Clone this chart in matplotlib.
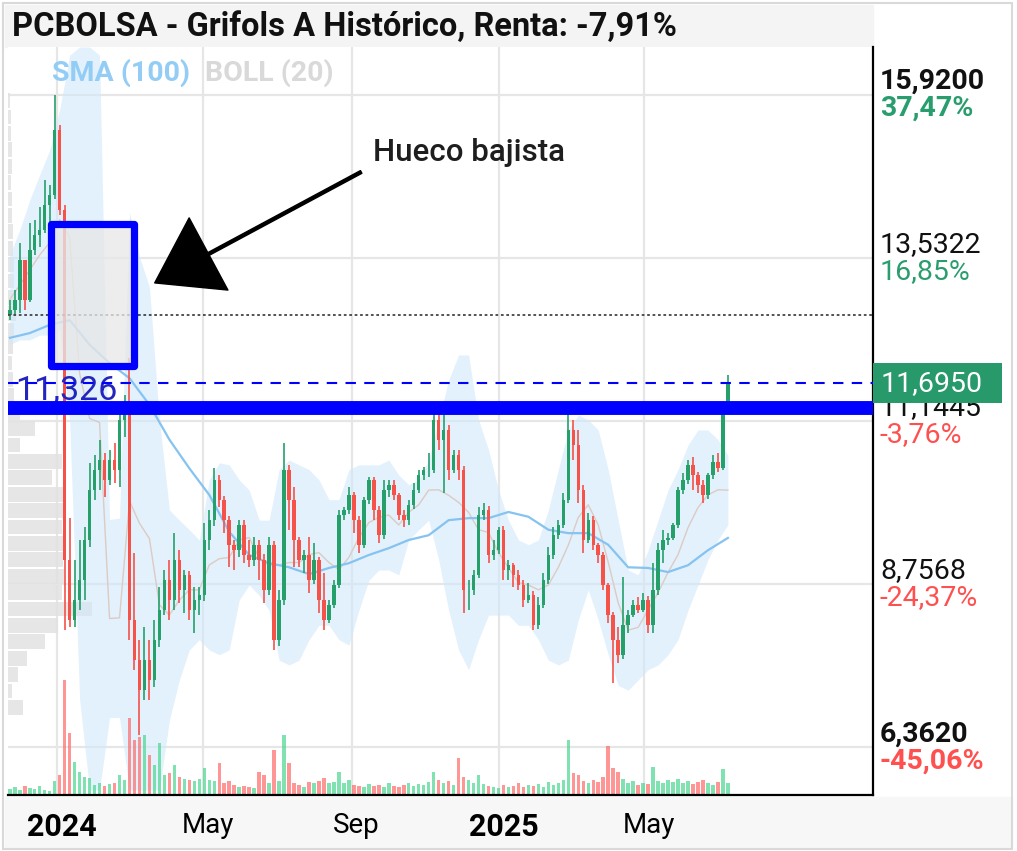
import datetime as dt
import matplotlib
matplotlib.use("Agg")
import matplotlib.pyplot as plt
import matplotlib.dates as mdates
import matplotlib.transforms as mtrans
from matplotlib.patches import Rectangle
import numpy as np

plt.rcParams["font.family"] = ["Roboto", "DejaVu Sans"]

GREEN, RED, BLUE = "#26a06b", "#f5524a", "#0000ff"
PCT_GREEN, PCT_RED = "#2a9d6f", "#ff5050"

# ---- data (EUR) ----
first_open = 12.70
close = [12.77, 12.92, 13.50, 12.92, 13.65, 13.87, 13.94, 14.31, 14.45, 15.41,
         14.23, 9.11, 8.23, 8.52, 8.81, 9.40, 10.13, 10.43, 10.57, 10.28,
         10.57, 10.43, 11.16, 11.38, 8.23, 7.64, 7.20, 7.64, 7.35, 7.94,
         8.37, 8.81, 8.52, 9.11, 8.67, 8.89, 8.37, 8.52, 8.59, 9.40,
         9.69, 10.28, 9.99, 9.69, 9.33, 9.25, 9.62, 9.18, 9.11, 9.33,
         9.11, 8.67, 9.33, 7.94, 8.52, 10.43, 9.99, 9.40, 9.11, 9.18,
         8.81, 9.11, 8.52, 8.23, 8.45, 8.74, 9.77, 9.84, 10.06, 9.69,
         9.33, 9.99, 10.28, 9.84, 9.47, 10.13, 10.21, 10.06, 9.77, 9.69,
         9.91, 10.13, 10.35, 10.43, 10.43, 11.16, 10.87, 11.01, 10.43, 10.64,
         10.43, 8.67, 8.67, 8.89, 9.77, 9.84, 9.18, 9.25, 9.55, 8.96,
         9.03, 8.89, 8.74, 8.52, 8.59, 8.15, 8.45, 8.81, 9.18, 9.47,
         9.62, 9.99, 11.01, 10.79, 10.13, 9.40, 9.69, 9.33, 9.18, 8.74,
         8.30, 7.94, 7.72, 8.15, 8.30, 8.45, 8.37, 8.52, 8.15, 8.67,
         9.25, 9.40, 9.43, 9.62, 10.13, 10.28, 10.50, 10.35, 10.21, 10.06,
         10.35, 10.54, 10.45, 11.30, 11.695]
high = [12.92, 13.06, 13.75, 13.25, 14.04, 14.09, 14.28, 14.67, 14.60, 15.92,
        15.48, 14.31, 9.72, 9.11, 9.40, 9.59, 10.53, 10.64, 10.87, 10.67,
        10.72, 10.82, 11.30, 11.52, 12.07, 9.21, 7.94, 8.13, 7.94, 8.23,
        8.71, 8.96, 9.11, 9.50, 9.25, 8.96, 8.95, 8.71, 8.71, 9.65,
        9.84, 10.45, 10.35, 10.05, 9.75, 9.40, 9.69, 9.69, 9.40, 9.44,
        9.40, 9.20, 9.44, 9.38, 8.67, 10.82, 10.50, 10.18, 9.45, 9.25,
        9.44, 9.36, 9.15, 8.92, 8.52, 8.81, 9.84, 9.88, 10.18, 10.10,
        9.75, 10.03, 10.32, 10.32, 9.90, 10.28, 10.28, 10.28, 10.09, 9.84,
        9.99, 10.24, 10.43, 10.47, 10.67, 11.26, 11.33, 11.33, 11.08, 10.72,
        10.72, 10.48, 8.81, 8.96, 9.88, 9.94, 9.90, 9.40, 9.59, 9.60,
        9.11, 9.06, 8.96, 8.81, 8.77, 8.65, 8.56, 8.92, 9.30, 9.59,
        9.69, 10.09, 11.26, 11.16, 11.01, 10.20, 9.79, 9.75, 9.36, 9.22,
        8.77, 8.35, 8.13, 8.86, 8.37, 8.52, 8.56, 8.62, 8.58, 9.06,
        9.36, 9.55, 9.50, 9.65, 10.18, 10.38, 10.57, 10.61, 10.40, 10.28,
        10.38, 10.64, 10.67, 11.38, 11.82]
low = [12.62, 12.70, 12.72, 12.77, 12.88, 13.57, 13.69, 13.90, 14.06, 14.40,
       14.16, 8.08, 8.13, 8.13, 8.37, 8.52, 9.30, 9.99, 10.13, 10.03,
       10.20, 10.24, 10.18, 10.91, 7.94, 7.50, 6.55, 7.06, 7.06, 7.25,
       7.83, 8.30, 8.23, 8.37, 8.48, 8.33, 8.23, 8.04, 8.30, 8.50,
       9.25, 9.60, 9.88, 9.50, 9.00, 8.96, 9.15, 9.06, 9.00, 9.02,
       8.81, 8.48, 8.60, 7.79, 7.85, 8.45, 9.55, 9.00, 9.00, 8.92,
       8.62, 8.75, 8.33, 8.08, 8.18, 8.40, 8.70, 9.69, 9.78, 9.50,
       9.21, 9.28, 9.92, 9.69, 9.36, 9.42, 10.03, 9.99, 9.69, 9.59,
       9.62, 9.85, 10.09, 10.28, 10.32, 10.38, 10.72, 10.09, 10.28, 10.38,
       10.28, 8.33, 8.37, 8.60, 8.85, 9.69, 9.06, 9.11, 9.20, 8.81,
       8.81, 8.71, 8.67, 8.42, 8.48, 8.08, 8.10, 8.40, 8.75, 9.12,
       9.42, 9.58, 9.94, 10.57, 9.94, 9.21, 9.35, 9.25, 9.06, 8.67,
       8.18, 7.31, 7.60, 7.65, 8.04, 8.27, 8.33, 8.35, 8.04, 8.04,
       8.60, 9.06, 9.33, 9.40, 9.58, 10.08, 10.22, 10.13, 10.09, 9.94,
       10.00, 10.30, 10.40, 10.43, 11.28]
# volume, millions of shares
volume = [0.6, 0.8, 0.5, 0.9, 0.7, 0.6, 0.9, 0.5, 0.4, 1.4,
          2.0, 11.5, 6.2, 3.3, 2.3, 1.8, 1.7, 1.0, 1.2, 0.9,
          1.1, 1.2, 2.0, 1.5, 7.7, 5.5, 5.8, 6.0, 4.0, 3.0,
          5.2, 2.0, 2.2, 3.0, 1.8, 1.6, 1.5, 1.4, 1.6, 2.7,
          1.5, 1.4, 3.2, 1.2, 1.4, 1.0, 0.8, 0.9, 0.8, 0.7,
          2.3, 2.0, 1.2, 4.5, 1.4, 6.0, 3.2, 1.2, 1.0, 0.8,
          1.3, 1.2, 1.4, 1.7, 1.2, 1.3, 2.3, 1.2, 1.5, 1.0,
          0.9, 0.8, 1.1, 0.9, 1.0, 0.8, 1.2, 0.9, 0.8, 1.0,
          1.2, 0.9, 1.1, 1.0, 1.3, 2.3, 1.5, 1.2, 1.4, 1.0,
          3.7, 1.8, 1.5, 1.2, 2.0, 1.1, 0.9, 0.8, 0.7, 1.0,
          0.8, 0.9, 1.2, 0.8, 1.0, 0.9, 1.1, 0.8, 1.3, 1.0,
          1.2, 1.5, 5.5, 2.2, 2.0, 1.4, 1.2, 1.5, 1.3, 1.8,
          4.9, 2.7, 2.3, 1.6, 1.2, 1.4, 1.0, 1.2, 1.1, 2.8,
          1.4, 1.2, 1.5, 1.3, 1.6, 1.2, 1.4, 1.1, 1.3, 1.5,
          1.2, 1.0, 1.3, 2.6, 1.2]
# Bollinger (20) bands, one value every 2nd candle
boll_up = [13.58, 13.94, 14.38, 14.75, 15.11, 15.70, 16.50, 16.62, 16.62, 16.50,
           9.70, 9.72, 14.20, 13.55, 13.10, 11.16, 9.84, 9.69, 9.55, 9.40,
           10.28, 10.53, 10.50, 10.28, 10.13, 9.69, 9.69, 10.43, 10.57, 10.50,
           10.43, 10.28, 9.99, 9.99, 10.43, 10.50, 10.50, 10.50, 10.57, 10.35,
           10.21, 10.28, 10.57, 11.16, 11.74, 12.11, 12.11, 11.16, 10.72, 10.13,
           9.69, 9.40, 9.33, 9.40, 9.84, 10.43, 11.01, 11.23, 11.16, 11.01,
           10.43, 9.69, 8.96, 8.89, 9.25, 9.69, 10.13, 10.43, 10.79, 11.01,
           11.01, 10.87, 10.64]
boll_lo = [12.26, 12.33, 12.33, 12.40, 12.40, 12.48, 11.16, 7.06, 5.74, 5.74,
           6.80, 6.80, 5.74, 5.74, 5.74, 5.74, 6.76, 7.35, 7.79, 7.94,
           7.79, 7.72, 7.79, 8.52, 8.74, 8.59, 8.37, 7.64, 7.57, 7.64,
           7.94, 8.15, 8.15, 7.94, 7.86, 8.37, 8.81, 8.96, 8.96, 8.89,
           9.40, 9.55, 9.69, 9.11, 8.37, 7.79, 7.50, 7.94, 8.30, 8.30,
           8.30, 8.15, 8.15, 7.94, 7.64, 7.57, 7.64, 8.23, 8.67, 8.23,
           7.72, 7.27, 7.20, 7.35, 7.50, 7.57, 7.72, 7.94, 8.37, 8.74,
           9.11, 9.40, 9.62]
# SMA (100), one value every 4th candle
sma100 = [12.36, 12.43, 12.55, 12.62, 12.26, 11.99, 11.77, 11.38, 10.87, 10.45,
          10.06, 9.52, 9.18, 9.06, 9.00, 8.90, 8.99, 9.06, 9.18, 9.28,
          9.40, 9.47, 9.69, 9.72, 9.72, 9.81, 9.74, 9.55, 9.50, 9.50,
          9.33, 9.00, 8.99, 8.93, 9.03, 9.25, 9.43]
# volume profile (relative), price bins from the top
profile = [2, 3, 3, 5, 5, 3, 5, 5, 6, 6, 7, 7, 8, 9, 7, 6, 5, 6, 7, 14,
           31, 14, 63, 51, 64, 65, 63, 66, 64, 65, 63, 97, 58, 43, 22, 12, 5, 17]
prof_top, prof_step = 15.955, 0.2402

y_levels = [15.92, 13.5322, 11.1445, 8.7568, 6.362]
y_values = ["15,9200", "13,5322", "11,1445", "8,7568", "6,3620"]
y_pcts = ["37,47%", "16,85%", "-3,76%", "-24,37%", "-45,06%"]
x_ticks = [dt.datetime(2024, 1, 1), dt.datetime(2024, 5, 1), dt.datetime(2024, 9, 1),
           dt.datetime(2025, 1, 1), dt.datetime(2025, 5, 1)]
x_labels = ["2024", "May", "Sep", "2025", "May"]

last_price = 11.695
gap_level = 11.326
start_level = 12.70

# ---- geometry ----
W, H = 1017, 851
t0 = mdates.date2num(dt.datetime(2023, 11, 23))
step = 4.13
close = np.array(close)
x = t0 + step * np.arange(len(close))
opens = np.r_[first_open, close[:-1]]
up = close >= opens

fig = plt.figure(figsize=(W / 100, H / 100), dpi=100)


def frac(l, t, r, b):
    return [l / W, 1 - b / H, (r - l) / W, (b - t) / H]


# background panels (behind the axes)
fig.patches.append(Rectangle((5 / W, 1 - 47 / H), 868 / W, 42 / H, transform=fig.transFigure,
                             color="#f4f4f4", zorder=-2))
fig.patches.append(Rectangle((5 / W, 1 - 848 / H), 1007 / W, 51 / H, transform=fig.transFigure,
                             color="#f7f7f7", zorder=-2))
fig.patches.append(Rectangle((3 / W, 1 - 849 / H), 1009 / W, 846 / H, transform=fig.transFigure,
                             fill=False, ec="#d9d9d9", lw=1.5, zorder=-1))
fig.text(12 / W, 1 - 27 / H, "PCBOLSA - Grifols A Histórico, Renta: -7,91%",
         fontsize=23.5, fontweight="bold", color="#111111", va="center", ha="left")

ax = fig.add_axes(frac(8, 47, 873, 795))
xlim = (t0 - 1.5, t0 + 714.9)
ylim = (5.665, 16.62)
ax.set_xlim(xlim)
ax.set_ylim(ylim)

# volume profile on the left
axp = ax.inset_axes([0, 0, 0.1, 1])
centers = prof_top - prof_step * (np.arange(len(profile)) + 0.5)
axp.barh(centers, profile, height=prof_step * 0.9, color="#e2e2e2", alpha=0.85)
axp.set_xlim(0, 100)
axp.set_ylim(ylim)
axp.axis("off")
axp.patch.set_visible(False)
axp.set_zorder(0.8)

# bollinger + sma
xb = x[::2]
ax.fill_between(xb, boll_lo, boll_up, color="#cfe8fb", alpha=0.6, lw=0, zorder=1)
ax.plot(xb, (np.array(boll_up) + np.array(boll_lo)) / 2, color="#dccbc3", lw=1, zorder=1.1)
ax.plot(x[::4], sma100, color="#86c3f0", lw=1.6, zorder=1.2)

# volume bars
axv = ax.inset_axes([0, 0, 1, 1])
axv.bar(x, volume, width=step * 0.7, color=np.where(up, "#49d68f", "#ff6a6a"), alpha=0.7)
axv.set_xlim(xlim)
axv.set_ylim(0, 74.8)
axv.axis("off")
axv.patch.set_visible(False)
axv.set_zorder(1.5)

# candles
cols = np.where(up, GREEN, RED)
ax.vlines(x, low, high, colors=cols, lw=1.2, zorder=2)
ax.bar(x, close - opens, bottom=opens, width=step * 0.7, color=cols, zorder=2.1)

# horizontal levels
ax.axhline(start_level, color="#444444", lw=1.3, ls=(0, (1.5, 1.5)), zorder=3)
ax.text(xlim[0] + 6, gap_level + 0.13, "11,326", fontsize=24.5, color="#2424bf",
        va="baseline", ha="left", zorder=2.9)
ax.axhline(last_price, color=BLUE, lw=1.5, ls=(0, (5, 4)), zorder=3)
ax.axhline(gap_level, color=BLUE, lw=10, zorder=3.1)

# gap box + arrow
r0 = mdates.date2num(dt.datetime(2023, 12, 27, 12))
r1 = mdates.date2num(dt.datetime(2024, 3, 4, 12))
ax.add_patch(Rectangle((r0, 11.941), r1 - r0, 14.021 - 11.941, fc=(0.91, 0.91, 0.91, 0.78),
                       ec=BLUE, lw=5.2, joinstyle="round", zorder=4))
ax.annotate("", xy=(mdates.date2num(dt.datetime(2024, 3, 22)), 13.165),
            xytext=(mdates.date2num(dt.datetime(2024, 9, 9)), 14.79),
            arrowprops=dict(facecolor="black", edgecolor="black", width=2.2,
                            headwidth=59, headlength=44, shrink=0.0), zorder=5)
ax.text(mdates.date2num(dt.datetime(2024, 9, 19)), 15.08, "Hueco bajista", fontsize=22.5,
        fontweight="medium", color="#1e1e1e", va="center", ha="left", zorder=5)

ax.text(0.051, 0.966, "SMA (100)", transform=ax.transAxes, fontsize=20.5, fontweight="bold",
        color="#93cdf6", va="center", ha="left")
ax.text(0.228, 0.966, "BOLL (20)", transform=ax.transAxes, fontsize=20.5, fontweight="bold",
        color="#d9d9d9", va="center", ha="left")

# axes styling
ax.set_yticks(y_levels)
ax.set_xticks(mdates.date2num(x_ticks))
ax.set_xticklabels(x_labels)
ax.tick_params(axis="y", left=False, right=False, labelleft=False)
ax.tick_params(axis="x", length=0, pad=12, labelsize=20)
shift = mtrans.ScaledTranslation(5 / 100, 0, fig.dpi_scale_trans)
for lab in ax.get_xticklabels():
    lab.set_transform(lab.get_transform() + shift)
    if lab.get_text().isdigit():
        lab.set_fontweight("bold")
        lab.set_fontsize(22)
ax.grid(True, color="#e6e6e6", lw=1.6)
ax.set_axisbelow(True)
for sp in ("top", "left"):
    ax.spines[sp].set_visible(False)
for sp in ("right", "bottom"):
    ax.spines[sp].set_color("black")
    ax.spines[sp].set_linewidth(1.6)
ax.set_facecolor("white")

trans = mtrans.blended_transform_factory(ax.transAxes, ax.transData)
for i, (lv, vs, ps) in enumerate(zip(y_levels, y_values, y_pcts)):
    bold = i in (0, len(y_levels) - 1)
    w = "bold" if bold else "normal"
    ax.text(1.008, lv, vs, transform=trans, fontsize=20.5, fontweight=w, color="#111111",
            va="bottom", ha="left", zorder=5)
    ax.text(1.008, lv, ps, transform=trans, fontsize=20.5, fontweight=w,
            color=PCT_RED if ps.startswith("-") else PCT_GREEN, va="top", ha="left", zorder=5)

ax.add_patch(Rectangle((1.0, last_price - 0.293), 0.149, 0.586, transform=trans,
                       fc="#27996a", ec="none", clip_on=False, zorder=6))
ax.text(1.009, last_price, "11,6950", transform=trans, fontsize=20.5, color="white",
        va="center", ha="left", zorder=7)

fig.savefig("out.png", dpi=100)
